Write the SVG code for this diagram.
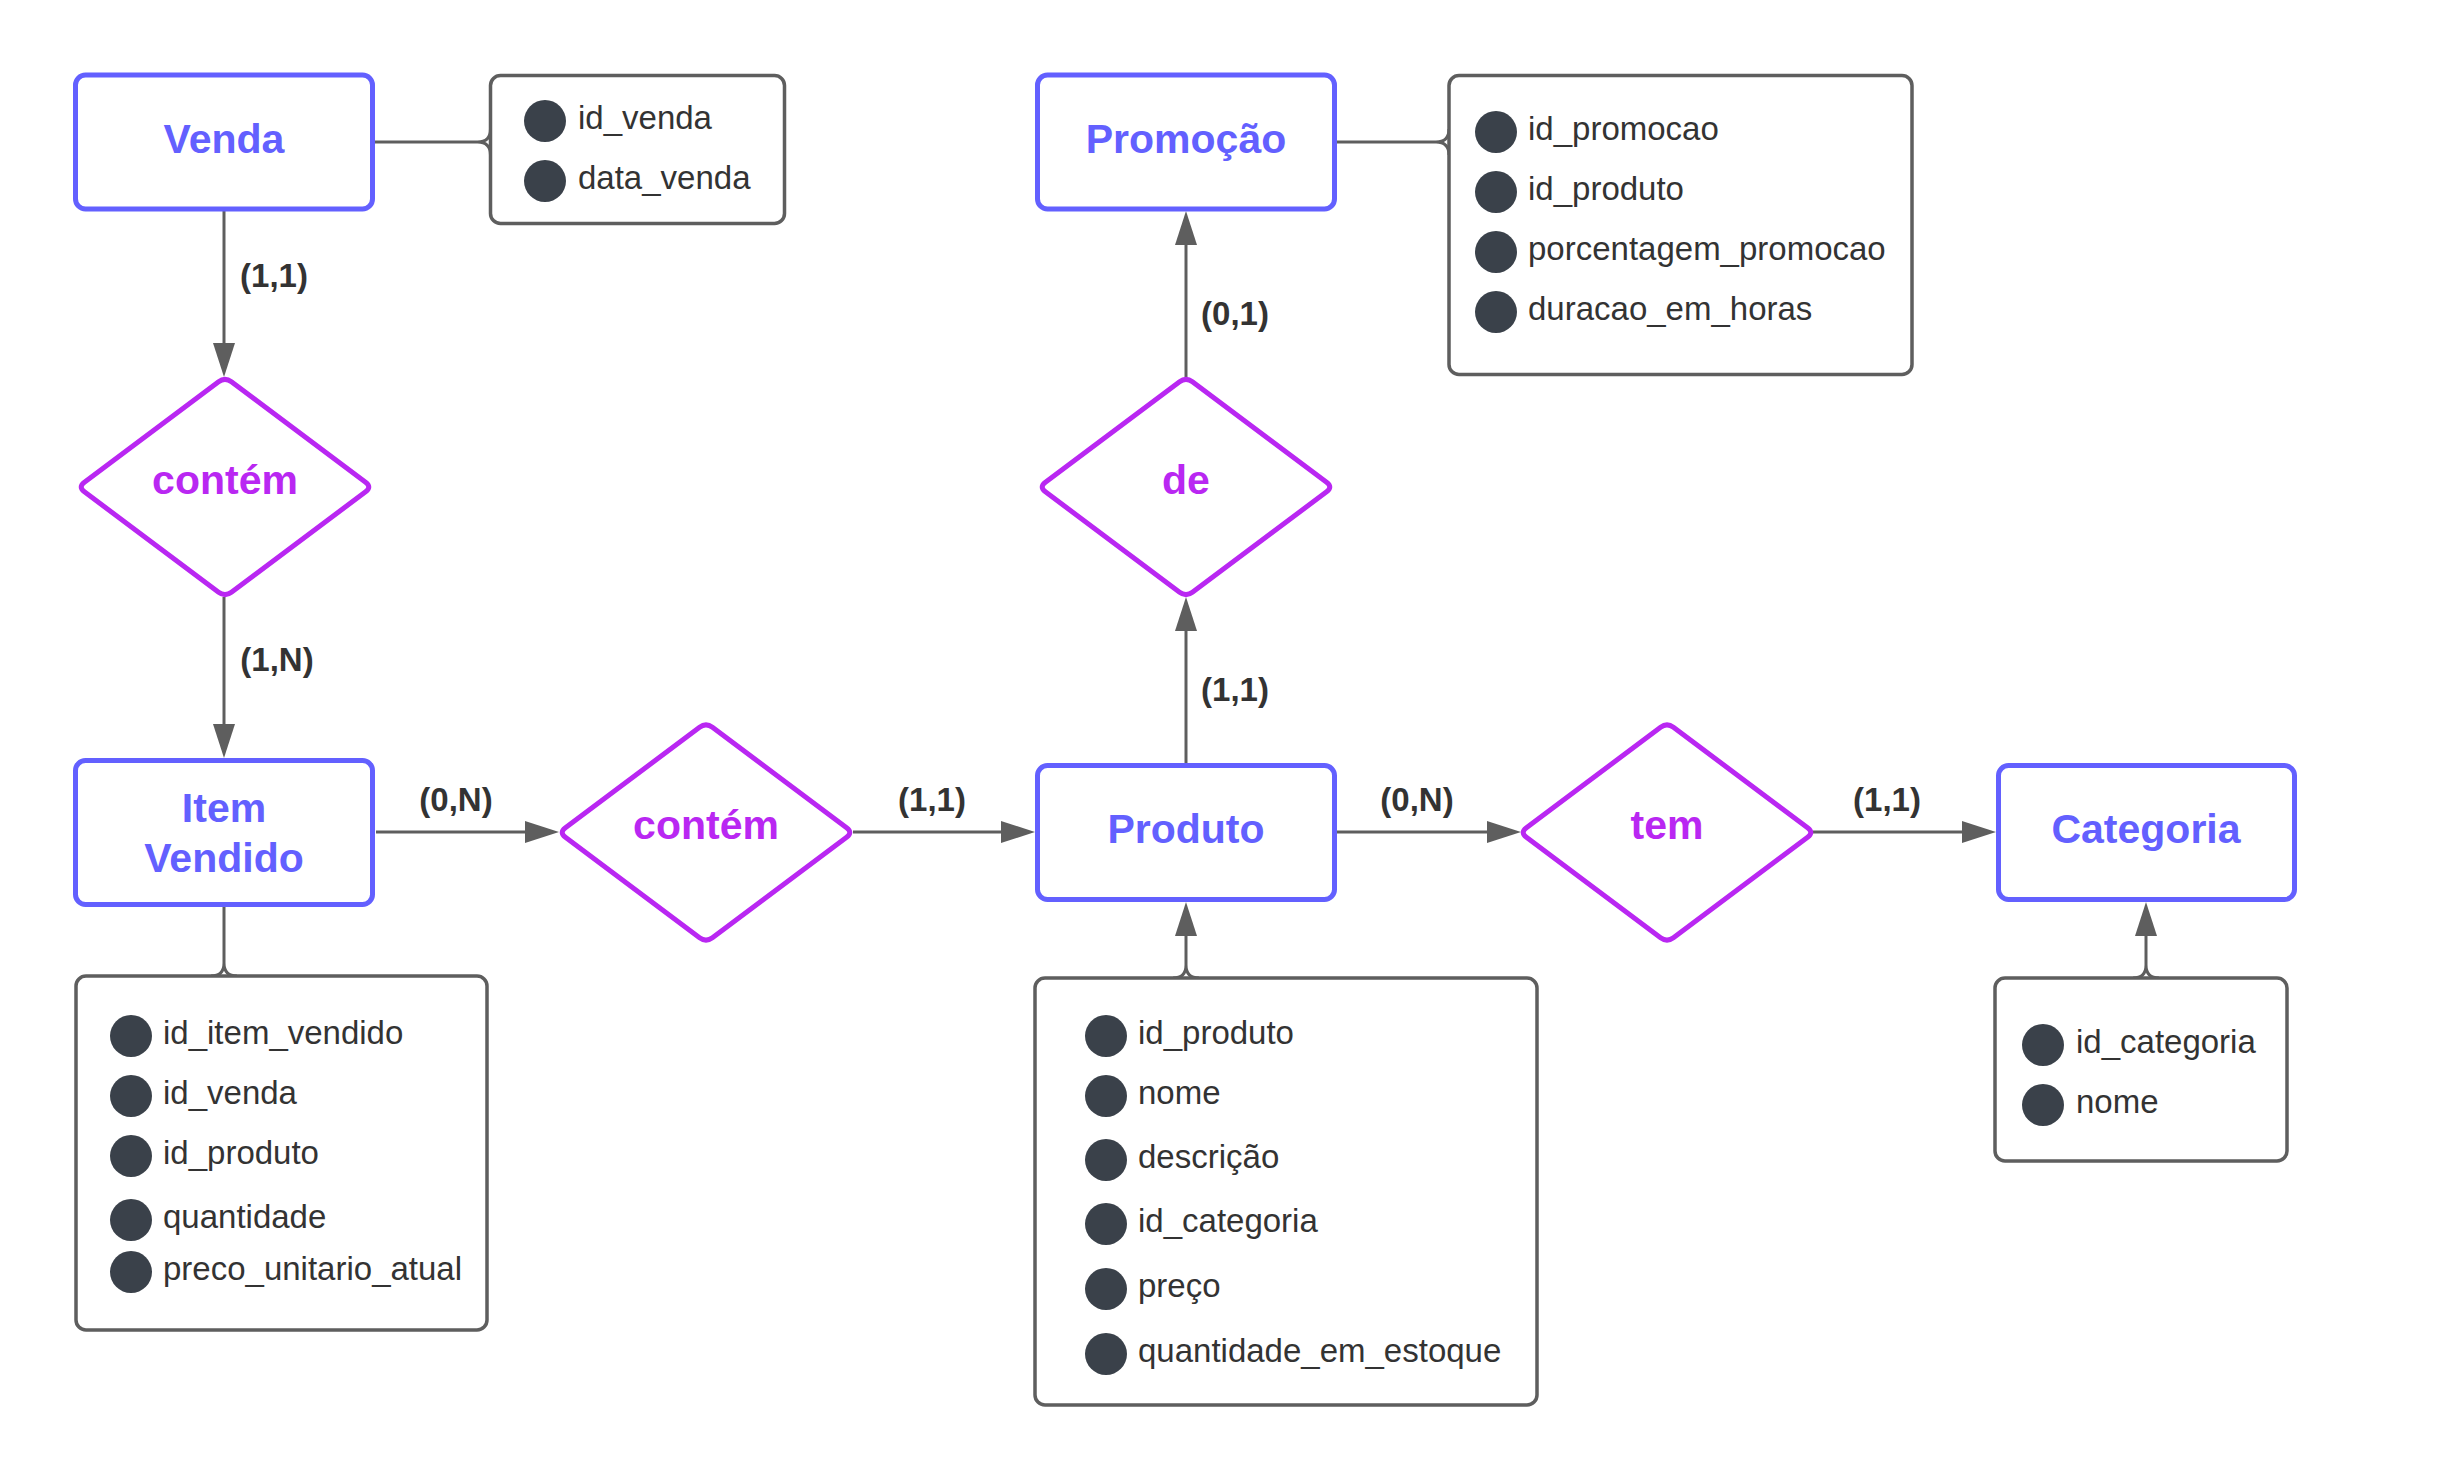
<svg xmlns="http://www.w3.org/2000/svg" xmlns:xlink="http://www.w3.org/1999/xlink" width="2451" height="1481" viewBox="0 0 2451 1481">
  <style>
    .entity { fill: #ffffff; stroke: #6360ff; stroke-width: 5; }
    .entity-label { font-family: "Liberation Sans", Arial, sans-serif; font-size: 41px; font-weight: bold; fill: #6360ff; text-anchor: middle; }
    .rel { fill: #ffffff; stroke: #b927f2; stroke-width: 5; stroke-linejoin: round; }
    .rel-label { font-family: "Liberation Sans", Arial, sans-serif; font-size: 41px; font-weight: bold; fill: #b927f2; text-anchor: middle; }
    .attrbox { fill: #ffffff; stroke: #5e5e5e; stroke-width: 3.5; }
    .attr { font-family: "Liberation Sans", Arial, sans-serif; font-size: 33px; fill: #333333; }
    .dot { fill: #3a414a; }
    .card { font-family: "Liberation Sans", Arial, sans-serif; font-size: 33px; font-weight: bold; fill: #333333; text-anchor: middle; }
    .link { fill: none; stroke: #5e5e5e; stroke-width: 3; }
    .arrow { fill: none; stroke: #5e5e5e; stroke-width: 3; marker-end: url(#head); }
  </style>
  <defs>
    <marker id="head" viewBox="0 0 34 22" refX="4" refY="11" markerWidth="34" markerHeight="22" markerUnits="userSpaceOnUse" orient="auto">
      <path d="M0,0 L34,11 L0,22 z" fill="#5e5e5e"/>
    </marker>
    <!-- relationship diamond, centred on the origin, with softened corners -->
    <path id="diamond" d="M6.42,-105.23 L140.58,-4.77 Q147,0 140.58,4.77 L6.42,105.23 Q0,110 -6.42,105.23 L-140.58,4.77 Q-147,0 -140.58,-4.77 L-6.42,-105.23 Q0,-110 6.42,-105.23 Z"/>
  </defs>

  <rect width="2451" height="1481" fill="#ffffff"/>

  <!-- connectors -->
  <g id="connectors">
    <!-- relationship lines -->
    <path class="arrow" d="M224,211 L224,347"/>
    <path class="arrow" d="M224,597 L224,728"/>
    <path class="arrow" d="M376,832 L529,832"/>
    <path class="arrow" d="M853,832 L1005,832"/>
    <path class="arrow" d="M1186,763 L1186,627"/>
    <path class="arrow" d="M1186,377 L1186,241"/>
    <path class="arrow" d="M1337,832 L1491,832"/>
    <path class="arrow" d="M1813,832 L1966,832"/>
    <!-- attribute box links -->
    <path class="link" d="M375,142 L477.5,142 M490.5,129 Q490.5,142 477.5,142 M490.5,155 Q490.5,142 477.5,142"/>
    <path class="link" d="M1337,142 L1436,142 M1449,129 Q1449,142 1436,142 M1449,155 Q1449,142 1436,142"/>
    <path class="link" d="M224,907 L224,963 M211,976 Q224,976 224,963 M237,976 Q224,976 224,963"/>
    <path class="link" d="M1173,978 Q1186,978 1186,965 M1199,978 Q1186,978 1186,965"/>
    <path class="arrow" d="M1186,965 L1186,932"/>
    <path class="link" d="M2133,978 Q2146,978 2146,965 M2159,978 Q2146,978 2146,965"/>
    <path class="arrow" d="M2146,965 L2146,932"/>
    <!-- cardinalities -->
    <text class="card" x="274" y="287">(1,1)</text>
    <text class="card" x="277" y="671">(1,N)</text>
    <text class="card" x="456" y="811">(0,N)</text>
    <text class="card" x="932" y="811">(1,1)</text>
    <text class="card" x="1235" y="701">(1,1)</text>
    <text class="card" x="1235" y="325">(0,1)</text>
    <text class="card" x="1417" y="811">(0,N)</text>
    <text class="card" x="1887" y="811">(1,1)</text>
  </g>

  <!-- entities -->
  <g id="venda">
    <rect class="entity" x="75.5" y="75" width="297" height="134" rx="10"/>
    <text class="entity-label" x="224" y="153">Venda</text>
  </g>
  <g id="promocao">
    <rect class="entity" x="1037.5" y="75" width="297" height="134" rx="10"/>
    <text class="entity-label" x="1186" y="153">Promoção</text>
  </g>
  <g id="item-vendido">
    <rect class="entity" x="75.5" y="760.5" width="297" height="144" rx="10"/>
    <text class="entity-label" x="224" y="822">Item</text>
    <text class="entity-label" x="224" y="872">Vendido</text>
  </g>
  <g id="produto">
    <rect class="entity" x="1037.5" y="765.5" width="297" height="134" rx="10"/>
    <text class="entity-label" x="1186" y="843">Produto</text>
  </g>
  <g id="categoria">
    <rect class="entity" x="1998.5" y="765.5" width="296" height="134" rx="10"/>
    <text class="entity-label" x="2146" y="843">Categoria</text>
  </g>

  <!-- relationships -->
  <g id="contem-venda">
    <use href="#diamond" class="rel" x="225" y="487"/>
    <text class="rel-label" x="225" y="494">contém</text>
  </g>
  <g id="de">
    <use href="#diamond" class="rel" x="1186" y="487"/>
    <text class="rel-label" x="1186" y="494">de</text>
  </g>
  <g id="contem-produto">
    <use href="#diamond" class="rel" x="706" y="832.5"/>
    <text class="rel-label" x="706" y="839">contém</text>
  </g>
  <g id="tem">
    <use href="#diamond" class="rel" x="1667" y="832.5"/>
    <text class="rel-label" x="1667" y="839">tem</text>
  </g>

  <!-- attribute lists -->
  <g id="venda-attrs">
    <rect class="attrbox" x="490.5" y="75.5" width="294" height="148" rx="10"/>
    <circle class="dot" cx="545" cy="121" r="21"/>
    <text class="attr" x="578" y="129">id_venda</text>
    <circle class="dot" cx="545" cy="181" r="21"/>
    <text class="attr" x="578" y="189">data_venda</text>
  </g>
  <g id="promocao-attrs">
    <rect class="attrbox" x="1449" y="75.5" width="463" height="299" rx="10"/>
    <circle class="dot" cx="1496" cy="132" r="21"/>
    <text class="attr" x="1528" y="140">id_promocao</text>
    <circle class="dot" cx="1496" cy="192" r="21"/>
    <text class="attr" x="1528" y="200">id_produto</text>
    <circle class="dot" cx="1496" cy="252" r="21"/>
    <text class="attr" x="1528" y="260">porcentagem_promocao</text>
    <circle class="dot" cx="1496" cy="312" r="21"/>
    <text class="attr" x="1528" y="320">duracao_em_horas</text>
  </g>
  <g id="item-vendido-attrs">
    <rect class="attrbox" x="76" y="976" width="411" height="354" rx="10"/>
    <circle class="dot" cx="131" cy="1036" r="21"/>
    <text class="attr" x="163" y="1044">id_item_vendido</text>
    <circle class="dot" cx="131" cy="1096" r="21"/>
    <text class="attr" x="163" y="1104">id_venda</text>
    <circle class="dot" cx="131" cy="1156" r="21"/>
    <text class="attr" x="163" y="1164">id_produto</text>
    <circle class="dot" cx="131" cy="1220" r="21"/>
    <text class="attr" x="163" y="1228">quantidade</text>
    <circle class="dot" cx="131" cy="1272" r="21"/>
    <text class="attr" x="163" y="1280">preco_unitario_atual</text>
  </g>
  <g id="produto-attrs">
    <rect class="attrbox" x="1035" y="978" width="502" height="427" rx="10"/>
    <circle class="dot" cx="1106" cy="1036" r="21"/>
    <text class="attr" x="1138" y="1044">id_produto</text>
    <circle class="dot" cx="1106" cy="1096" r="21"/>
    <text class="attr" x="1138" y="1104">nome</text>
    <circle class="dot" cx="1106" cy="1160" r="21"/>
    <text class="attr" x="1138" y="1168">descrição</text>
    <circle class="dot" cx="1106" cy="1224" r="21"/>
    <text class="attr" x="1138" y="1232">id_categoria</text>
    <circle class="dot" cx="1106" cy="1289" r="21"/>
    <text class="attr" x="1138" y="1297">preço</text>
    <circle class="dot" cx="1106" cy="1354" r="21"/>
    <text class="attr" x="1138" y="1362">quantidade_em_estoque</text>
  </g>
  <g id="categoria-attrs">
    <rect class="attrbox" x="1995" y="978" width="292" height="183" rx="10"/>
    <circle class="dot" cx="2043" cy="1045" r="21"/>
    <text class="attr" x="2076" y="1053">id_categoria</text>
    <circle class="dot" cx="2043" cy="1105" r="21"/>
    <text class="attr" x="2076" y="1113">nome</text>
  </g>
</svg>
